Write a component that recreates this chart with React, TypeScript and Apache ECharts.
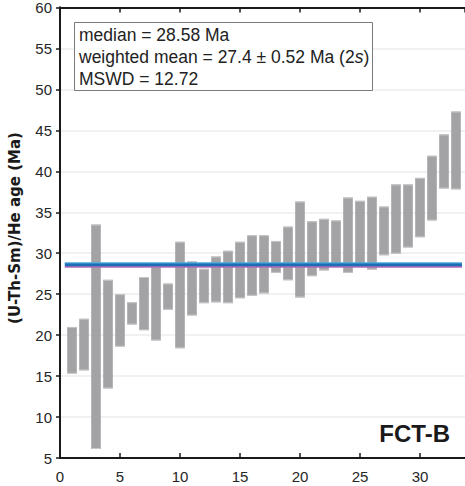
import React, { useEffect, useRef } from "react";
import * as echarts from "echarts";

const sampleIndex = [1,2,3,4,5,6,7,8,9,10,11,12,13,14,15,16,17,18,19,20,21,22,23,24,25,26,27,28,29,30,31,32,33];
const ageLow = [15.3,15.7,6.1,13.5,18.6,21.3,20.6,19.35,23.1,18.4,22.4,23.9,24.0,23.9,24.5,24.8,25.1,27.6,26.7,24.6,27.2,27.9,28.5,27.6,28.6,28.0,29.75,29.95,30.7,31.95,34.0,37.9,37.8];
const ageHigh = [21.0,22.0,33.5,26.75,25.0,24.0,27.1,28.4,26.3,31.4,29.0,28.1,29.6,30.3,31.4,32.2,32.2,31.5,33.25,36.3,33.9,34.2,34.0,36.8,36.4,36.9,35.7,38.4,38.4,39.2,41.9,44.5,47.3];
const medianAge = 28.6;
const medianEdge = 28.82;
const meanLine = 28.34;
const lineSpan = [0.4, 33.5];
const xTicks = [0, 5, 10, 15, 20, 25, 30];
const yTicks = [5, 10, 15, 20, 25, 30, 35, 40, 45, 50, 55, 60];
const statsText = ["median = 28.58 Ma", "weighted mean = 27.4 \u00b1 0.52 Ma (2", "s", ")", "MSWD = 12.72"];
const sampleLabel = "FCT-B";
const yTitle = "(U-Th-Sm)/He age (Ma)";

export default function App() {
  const ref = useRef<HTMLDivElement>(null);
  useEffect(() => {
    if (!ref.current) return;
    const chart = echarts.init(ref.current, null, { renderer: "svg" });
    const barData = sampleIndex.map((x, i) => [x, ageLow[i], ageHigh[i]]);
    const axisColor = "#1a1a1a";
    const labelColor = "#262626";
    const font = "'Liberation Sans', Arial, sans-serif";
    const boxFont = 17.5;
    chart.setOption({
      animation: false,
      grid: { left: 60, right: 0, top: 7, bottom: 28 },
      xAxis: [
        {
          type: "value", min: 0, max: 33.75, interval: 5, position: "bottom",
          axisLine: { show: true, lineStyle: { color: axisColor, width: 2 } },
          axisTick: { show: true, inside: true, length: 5, lineStyle: { color: axisColor, width: 1.5 } },
          axisLabel: { color: labelColor, fontSize: 15, fontFamily: font, margin: 11, showMaxLabel: false,
            formatter: (v: number) => (xTicks.includes(v) ? String(v) : "") },
          splitLine: { show: false },
        },
        {
          type: "value", min: 0, max: 33.75, interval: 5, position: "top",
          axisLine: { show: true, lineStyle: { color: axisColor, width: 2 } },
          axisTick: { show: true, inside: true, length: 5, lineStyle: { color: axisColor, width: 1.5 } },
          axisLabel: { show: false },
          splitLine: { show: false },
        },
      ],
      yAxis: [
        {
          type: "value", min: 5, max: 60, interval: 5, position: "left",
          axisLine: { show: true, lineStyle: { color: axisColor, width: 2 } },
          axisTick: { show: false },
          axisLabel: { color: labelColor, fontSize: 15, fontFamily: font, margin: 8,
            formatter: (v: number) => (yTicks.includes(v) ? String(v) : "") },
          splitLine: { show: true, lineStyle: { color: "#ececec", width: 1.5 } },
        },
        {
          type: "value", min: 5, max: 60, interval: 5, position: "right",
          axisLine: { show: true, lineStyle: { color: axisColor, width: 2 } },
          axisTick: { show: true, inside: true, length: 4, lineStyle: { color: axisColor, width: 1.5 } },
          axisLabel: { show: false },
          splitLine: { show: false },
        },
      ],
      series: [
        {
          type: "custom",
          xAxisIndex: 0, yAxisIndex: 0,
          data: barData,
          renderItem: (params: any, api: any) => {
            const x = api.value(0);
            const lo = api.value(1);
            const hi = api.value(2);
            const p1 = api.coord([x - 0.4, hi]);
            const p2 = api.coord([x + 0.4, lo]);
            const w = p2[0] - p1[0];
            const h = p2[1] - p1[1];
            return {
              type: "group",
              children: [
                { type: "rect", shape: { x: p1[0], y: p1[1], width: w, height: h }, style: { fill: "#a3a3a5" } },
                { type: "rect", shape: { x: p1[0], y: p1[1], width: w, height: 1 }, style: { fill: "#c6c6c8" } },
                { type: "rect", shape: { x: p1[0], y: p2[1] - 1, width: w, height: 1 }, style: { fill: "#c6c6c8" } },
              ],
            };
          },
          z: 2,
        },
        {
          type: "line", xAxisIndex: 0, yAxisIndex: 0, symbol: "none", z: 3,
          data: [[lineSpan[0], meanLine], [lineSpan[1], meanLine]],
          lineStyle: { color: "#b468b8", width: 1.8 },
        },
        {
          type: "line", xAxisIndex: 0, yAxisIndex: 0, symbol: "none", z: 4,
          data: [[lineSpan[0], medianAge], [lineSpan[1], medianAge]],
          lineStyle: { color: "#1c6fb5", width: 3.2 },
        },
        {
          type: "line", xAxisIndex: 0, yAxisIndex: 0, symbol: "none", z: 5,
          data: [[lineSpan[0], medianEdge], [lineSpan[1], medianEdge]],
          lineStyle: { color: "#4aa9dc", width: 1.4 },
        },
      ],
      graphic: [
        {
          type: "rect", z: 10,
          shape: { x: 74.5, y: 22.5, width: 298, height: 68 },
          style: { fill: "#ffffff", stroke: "#7a7a7a", lineWidth: 1 },
        },
        {
          type: "text", z: 11, x: 79, y: 35,
          style: { text: statsText[0], fontSize: boxFont, fontFamily: font, fill: "#222", verticalAlign: "middle" },
        },
        {
          type: "text", z: 11, x: 79, y: 57,
          style: {
            text: `{a|${statsText[1]}}{b|${statsText[2]}}{a|${statsText[3]}}`,
            verticalAlign: "middle",
            rich: {
              a: { fontSize: boxFont, fontFamily: font, fill: "#222" },
              b: { fontSize: boxFont, fontFamily: font, fill: "#222", fontStyle: "italic" },
            },
          },
        },
        {
          type: "text", z: 11, x: 79, y: 78.5,
          style: { text: statsText[4], fontSize: boxFont, fontFamily: font, fill: "#222", verticalAlign: "middle" },
        },
        {
          type: "text", z: 11, x: 450, y: 433,
          style: { text: sampleLabel, fontSize: 24, fontWeight: "bold", fontFamily: font, fill: "#1a1a1a", align: "right", verticalAlign: "middle" },
        },
        {
          type: "text", z: 11, x: 15, y: 228, rotation: Math.PI / 2,
          style: { text: yTitle, fontSize: 15, fontWeight: "bold", fontFamily: "'DejaVu Sans', sans-serif", fill: "#1a1a1a", align: "center", verticalAlign: "middle" },
        },
      ],
    });
    return () => chart.dispose();
  }, []);
  return <div ref={ref} style={{ position: "fixed", left: 0, top: 0, width: 465, height: 486, background: "#fff" }} />;
}
